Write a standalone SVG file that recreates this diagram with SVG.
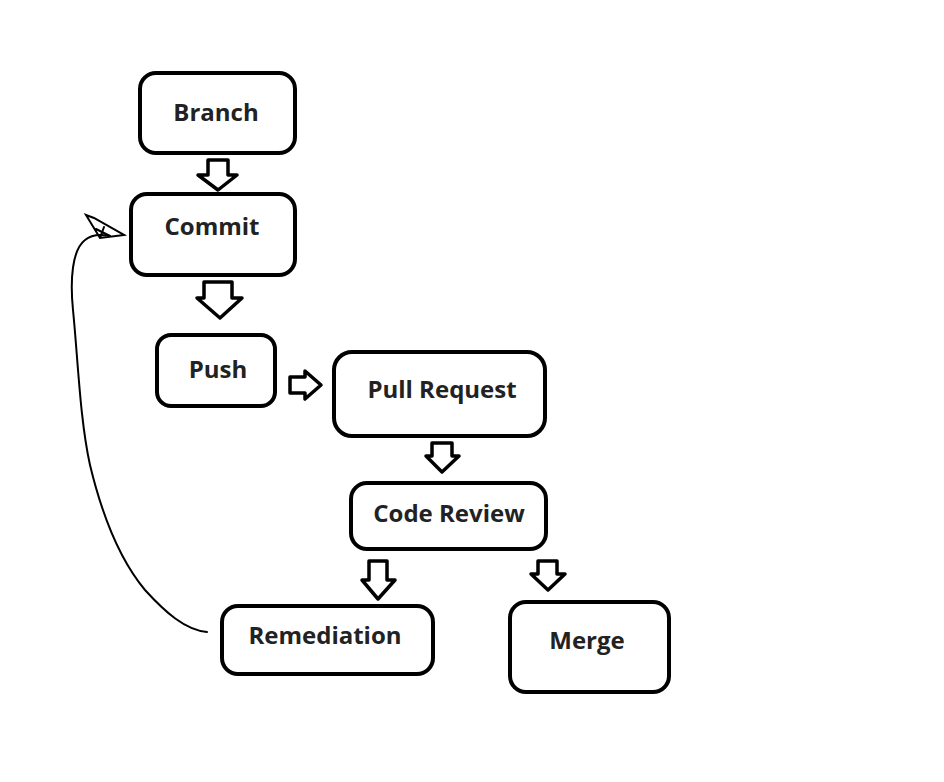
<svg xmlns="http://www.w3.org/2000/svg" width="944" height="782" viewBox="0 0 944 782">
<style>
.box{fill:#fff;stroke:#000;stroke-width:4}
.lbl{font-family:"Open Sans","DejaVu Sans",sans-serif;font-weight:bold;font-size:24px;fill:#222;text-anchor:middle}
.arr{fill:#fff;stroke:#000;stroke-width:3.5;stroke-linejoin:round}
.fb{fill:none;stroke:#000;stroke-width:2;stroke-linecap:round}
</style>
<rect width="944" height="782" fill="#fff"/>
<g id="connectors">
<polygon class="arr" points="208,160 228,160 228,175 237,175 218,190 198,175 208,175"/>
<polygon class="arr" points="204,282 232,282 232,298 242,298 220,318 197,298 204,298"/>
<polygon class="arr" points="290,377 305,377 305,371 321,385 305,399 305,393 290,393"/>
<polygon class="arr" points="432,443 452,443 452,456 459,456 442,472 426,456 432,456"/>
<polygon class="arr" points="369,561 387,561 387,580 395,580 378,599 362,580 369,580"/>
<polygon class="arr" points="538,561 557,561 557,574 565,574 548,590 531,574 538,574"/>
<path class="fb" d="M207,632 C185,630 165,612 145,590 C120,560 102,515 90,465 C80,420 78,360 73,310 C70,280 72,250 85,240 C92,234 100,234 110,236"/>
<path class="fb" d="M124,235 L100,238 L86,215 L94,218 Z M100,238 L104,227 M96,229 L110,236"/>
</g>
<g id="branch"><rect class="box" x="140" y="73" width="155" height="80" rx="16"/><text class="lbl" x="216" y="121">Branch</text></g>
<g id="commit"><rect class="box" x="131" y="194" width="164" height="81" rx="16"/><text class="lbl" x="212" y="235">Commit</text></g>
<g id="push"><rect class="box" x="157" y="335" width="118" height="71" rx="14"/><text class="lbl" x="218" y="378">Push</text></g>
<g id="pull-request"><rect class="box" x="334" y="352" width="211" height="84" rx="18"/><text class="lbl" x="442" y="398">Pull Request</text></g>
<g id="code-review"><rect class="box" x="351" y="483" width="195" height="66" rx="16"/><text class="lbl" x="449" y="522">Code Review</text></g>
<g id="remediation"><rect class="box" x="222" y="606" width="211" height="68" rx="16"/><text class="lbl" x="325" y="644">Remediation</text></g>
<g id="merge"><rect class="box" x="510" y="602" width="159" height="90" rx="16"/><text class="lbl" x="587" y="649">Merge</text></g>
</svg>
